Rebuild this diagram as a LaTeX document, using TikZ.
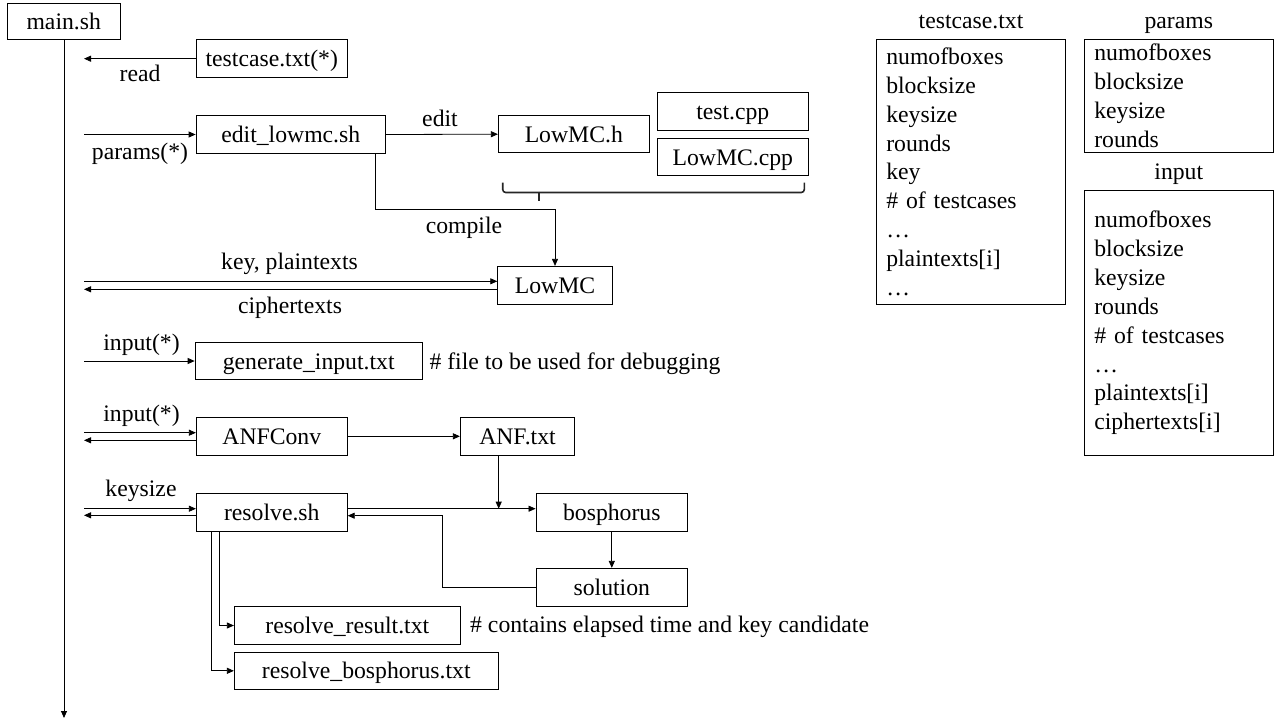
\documentclass[tikz,border=0pt]{standalone}
\usepackage{fontspec}
\setmainfont{Liberation Serif}
\usetikzlibrary{arrows.meta}
\newcommand\myfs{\fontsize{23.7}{28.9}\selectfont}
\tikzset{
  box/.style={draw, line width=0.8pt, inner sep=0pt, text height=16pt, text depth=0pt, font=\myfs},
  lbl/.style={anchor=base, inner sep=0pt, font=\myfs},
  arr/.style={line width=0.8pt, -{Triangle[length=7pt,width=6pt]}},
  bracel/.style={line width=1.6pt, draw=black!85},
  listbox/.style={draw, line width=0.8pt, align=left, inner xsep=10pt, inner ysep=0pt, text width=169pt, font=\myfs},
}
\begin{document}
\begin{tikzpicture}[x=1pt,y=-1pt]
\useasboundingbox (0,0) rectangle (1280,720);
% boxes
\node[box, minimum width=112.5pt, minimum height=36pt] (main) at (63.75,21) {main.sh};
\node[box, minimum width=151.5pt, minimum height=38pt] (tc) at (271.75,58.6) {testcase.txt(*)};
\node[box, minimum width=189.5pt, minimum height=37.6pt] (edit) at (290.75,134.5) {edit\_lowmc.sh};
\node[box, minimum width=151pt, minimum height=37pt] (lowmch) at (573.8,134.2) {LowMC.h};
\node[box, minimum width=151pt, minimum height=37.3pt] (testcpp) at (732.8,111.3) {test.cpp};
\node[box, minimum width=151pt, minimum height=37.4pt] (lowmccpp) at (732.8,157) {LowMC.cpp};
\node[box, minimum width=114.6pt, minimum height=38pt] (lowmc) at (555,285.3) {LowMC};
\node[box, minimum width=227.3pt, minimum height=36.6pt] (gen) at (308.7,361) {generate\_input.txt};
\node[box, minimum width=151pt, minimum height=38pt] (anfconv) at (271.8,436.3) {ANFConv};
\node[box, minimum width=114.4pt, minimum height=38pt] (anf) at (517.5,436.3) {ANF.txt};
\node[box, minimum width=151pt, minimum height=37.7pt] (resolve) at (271.8,512.2) {resolve.sh};
\node[box, minimum width=151.7pt, minimum height=37.7pt] (bosph) at (611.8,512.2) {bosphorus};
\node[box, minimum width=151.7pt, minimum height=38pt] (sol) at (611.8,587.3) {solution};
\node[box, minimum width=226pt, minimum height=37.6pt] (rres) at (347.3,625.5) {resolve\_result.txt};
\node[box, minimum width=264pt, minimum height=36.3pt] (rbos) at (366.3,670.8) {resolve\_bosphorus.txt};
% list boxes
\node[lbl] (ttc) at (971,28) {testcase.txt};
\node[lbl] (tpar) at (1178.8,28) {params};
\node[lbl] (tinp) at (1178.8,179.3) {input};
\node[listbox, minimum height=265pt] (tcbox) at (970.8,171.8)
  {numofboxes\\blocksize\\keysize\\rounds\\key\\\# of testcases\\…\\plaintexts[i]\\…};
\node[listbox, minimum height=113pt] (pbox) at (1178.8,95.8)
  {numofboxes\\blocksize\\keysize\\rounds};
\node[listbox, minimum height=264.3pt] (ibox) at (1178.8,322.85)
  {numofboxes\\blocksize\\keysize\\rounds\\\# of testcases\\…\\plaintexts[i]\\ciphertexts[i]};
% labels
\node[lbl] (lread) at (140,81.5) {read};
\node[lbl] (lpar) at (140,159.5) {params(*)};
\node[lbl] (ledit) at (440,126) {edit};
\node[lbl] (lcomp) at (464,233) {compile};
\node[lbl] (lkey) at (289.5,269.5) {key, plaintexts};
\node[lbl] (lciph) at (290,313.5) {ciphertexts};
\node[lbl] (lin1) at (141.5,350) {input(*)};
\node[lbl] (lin2) at (141.5,421) {input(*)};
\node[lbl] (lks) at (141,496) {keysize};
\node[lbl, anchor=base west] (c1) at (429.3,369) {\# file to be used for debugging};
\node[lbl, anchor=base west] (c2) at (470,632.7) {\# contains elapsed time and key candidate};
% free-end coordinates
\coordinate (mend) at (64,718);
\coordinate (a1) at (84,58.7);
\coordinate (a2) at (84,134.5);
\coordinate (a3) at (84,281.3);
\coordinate (a4) at (84,289.3);
\coordinate (a5) at (84,361);
\coordinate (a6) at (84,432.7);
\coordinate (a7) at (84,440.3);
\coordinate (a8) at (84,508.7);
\coordinate (a9) at (84,515.3);
\coordinate (cmp) at (555,209);
\coordinate (j) at (498.7,508.7);
\coordinate (back) at (442,515.7);
% connectors
\draw[arr] (main.south -| mend) -- (mend);
\draw[arr] (tc.west |- a1) -- (a1);
\draw[arr] (a2) -- (edit.west);
\draw[arr] (edit.east) -- (lowmch.west);
\draw[arr] ([xshift=-10.5pt]edit.south east) |- (cmp) -- (lowmc.north);
\draw[arr] (a3) -- (lowmc.west |- a3);
\draw[arr] (lowmc.west |- a4) -- (a4);
\draw[arr] (a5) -- (gen.west);
\draw[arr] (a6) -- (anfconv.west |- a6);
\draw[arr] (anfconv.west |- a7) -- (a7);
\draw[arr] (anfconv.east) -- (anf.west);
\draw[arr] (a8) -- (resolve.west |- a8);
\draw[arr] (resolve.west |- a9) -- (a9);
\draw[arr] (resolve.east |- j) -- (bosph.west |- j);
\draw[arr] (anf.south -| j) -- (j);
\draw[arr] (bosph.south) -- (sol.north);
\draw[arr] (sol.west) -| (back) -- (resolve.east |- back);
\draw[arr] ([xshift=23pt]resolve.south west) |- (rres.west);
\draw[arr] ([xshift=15.4pt]resolve.south west) |- (rbos.west);
% brace
\draw[bracel, rounded corners=3pt] (502.7,182.5) |- (539,192.5);
\draw[bracel, rounded corners=3pt] (804.3,182.5) |- (539,192.5);
\draw[bracel] (539,192.5) -- (539,200.5);
\end{tikzpicture}
\end{document}
